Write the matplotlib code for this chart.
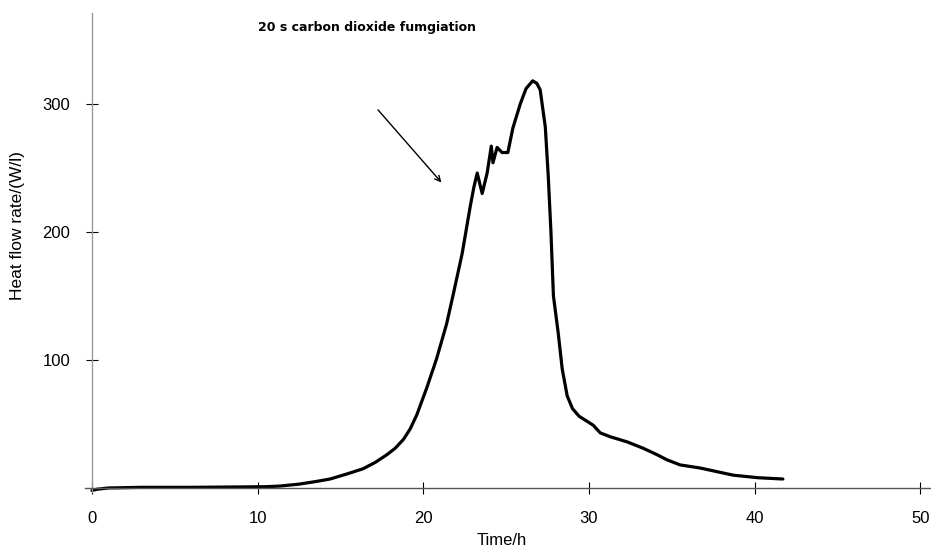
import numpy as np
import matplotlib
matplotlib.use("Agg")
import matplotlib.pyplot as plt

plt.rcParams['font.family'] = ['Liberation Sans', 'DejaVu Sans']

# heat flow curve
time_h = [0, 0.3, 1, 3, 6, 9, 10.5, 11.35, 12.5, 13.5, 14.37, 15.4, 16.36, 17.1,
          17.8, 18.3, 18.8, 19.2, 19.6, 20.2, 20.8, 21.4, 21.8, 22.34, 22.83,
          23.05, 23.25, 23.55, 23.85, 24.1, 24.2, 24.45, 24.75, 25.1, 25.4,
          25.85, 26.2, 26.6, 26.85, 27.05, 27.36, 27.54, 27.7, 27.85, 28.14,
          28.38, 28.68, 29.0, 29.4, 29.89, 30.25, 30.68, 31.28, 32.3, 33.27, 34.1,
          34.7, 35.5, 36.7, 38.7, 40.2, 41.7]
heat = [-2, -1, 0, 0.5, 0.5, 0.8, 1, 1.5, 3, 5, 7, 11, 15, 20,
        26, 31, 38, 46, 57, 78, 101, 128, 151, 183, 220,
        235, 246, 230, 246, 267, 254, 266, 262, 262, 281,
        300, 312, 318, 316, 311, 282, 243, 200, 150, 121,
        93, 72, 62, 56, 52, 49, 43, 40, 36, 31, 26,
        22, 18, 15.6, 10, 8, 7]

xticks = [0, 10, 20, 30, 40, 50]
yticks = [100, 200, 300]

note = "20 s carbon dioxide fumgiation"
arrow_from = (17.15, 297)
arrow_to = (21.2, 237)

fig = plt.figure(figsize=(9.31, 5.5), dpi=100)
ax = fig.add_axes([0.0917, 0.1058, 0.9076, 0.8706])

ax.plot(time_h, heat, color='black', lw=2.3, solid_capstyle='round', solid_joinstyle='round')

ax.set_xlim(-0.4, 50.6)
ax.set_ylim(-3, 371)

ax.spines['top'].set_visible(False)
ax.spines['right'].set_visible(False)
ax.spines['left'].set_position(('data', 0))
ax.spines['bottom'].set_position(('data', 0))
ax.spines['left'].set_color('#999999')
ax.spines['bottom'].set_color('#555555')
ax.spines['left'].set_linewidth(1.0)
ax.spines['bottom'].set_linewidth(1.0)

ax.set_xticks(xticks)
ax.set_yticks(yticks)
ax.tick_params(axis='x', direction='inout', length=9, width=0.8, pad=12, labelsize=12)
ax.tick_params(axis='y', direction='inout', length=9, width=0.8, pad=11, labelsize=12)

ax.set_xlabel("Time/h", fontsize=12)
ax.xaxis.set_label_coords(0.493, -0.087)
ax.set_ylabel("Heat flow rate/(W/l)", fontsize=12.5)
ax.yaxis.set_label_coords(-0.0715, 0.557)

ax.text(10, 360, note, fontsize=9, fontweight='bold', ha='left', va='center',
        family='DejaVu Sans')
ax.annotate("", xy=arrow_to, xytext=arrow_from,
            arrowprops=dict(arrowstyle='->', color='black', lw=1.0, mutation_scale=10))

fig.savefig("out.png", dpi=100)
